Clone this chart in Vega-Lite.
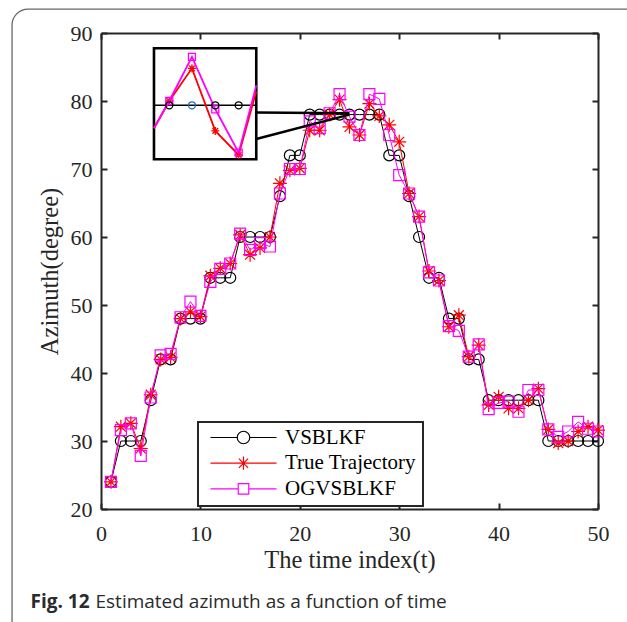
{
"$schema":"https://vega.github.io/schema/vega-lite/v6.json",
"width":497,"height":476,
"autosize":{"type":"none"},
"padding":{"left":101,"top":33,"right":29,"bottom":113},
"background":"white",
"datasets":{
"main":[
{"t":1,"series":"VSBLKF","azimuth":24},{"t":2,"series":"VSBLKF","azimuth":30},{"t":3,"series":"VSBLKF","azimuth":30},{"t":4,"series":"VSBLKF","azimuth":30},{"t":5,"series":"VSBLKF","azimuth":36},{"t":6,"series":"VSBLKF","azimuth":42},{"t":7,"series":"VSBLKF","azimuth":42},{"t":8,"series":"VSBLKF","azimuth":48},{"t":9,"series":"VSBLKF","azimuth":48},{"t":10,"series":"VSBLKF","azimuth":48},
{"t":11,"series":"VSBLKF","azimuth":54},{"t":12,"series":"VSBLKF","azimuth":54},{"t":13,"series":"VSBLKF","azimuth":54},{"t":14,"series":"VSBLKF","azimuth":60},{"t":15,"series":"VSBLKF","azimuth":60},{"t":16,"series":"VSBLKF","azimuth":60},{"t":17,"series":"VSBLKF","azimuth":60},{"t":18,"series":"VSBLKF","azimuth":66},{"t":19,"series":"VSBLKF","azimuth":72},{"t":20,"series":"VSBLKF","azimuth":72},
{"t":21,"series":"VSBLKF","azimuth":78},{"t":22,"series":"VSBLKF","azimuth":78},{"t":23,"series":"VSBLKF","azimuth":78},{"t":24,"series":"VSBLKF","azimuth":78},{"t":25,"series":"VSBLKF","azimuth":78},{"t":26,"series":"VSBLKF","azimuth":78},{"t":27,"series":"VSBLKF","azimuth":78},{"t":28,"series":"VSBLKF","azimuth":78},{"t":29,"series":"VSBLKF","azimuth":72},{"t":30,"series":"VSBLKF","azimuth":72},
{"t":31,"series":"VSBLKF","azimuth":66},{"t":32,"series":"VSBLKF","azimuth":60},{"t":33,"series":"VSBLKF","azimuth":54},{"t":34,"series":"VSBLKF","azimuth":54},{"t":35,"series":"VSBLKF","azimuth":48},{"t":36,"series":"VSBLKF","azimuth":48},{"t":37,"series":"VSBLKF","azimuth":42},{"t":38,"series":"VSBLKF","azimuth":42},{"t":39,"series":"VSBLKF","azimuth":36},{"t":40,"series":"VSBLKF","azimuth":36},
{"t":41,"series":"VSBLKF","azimuth":36},{"t":42,"series":"VSBLKF","azimuth":36},{"t":43,"series":"VSBLKF","azimuth":36},{"t":44,"series":"VSBLKF","azimuth":36},{"t":45,"series":"VSBLKF","azimuth":30},{"t":46,"series":"VSBLKF","azimuth":30},{"t":47,"series":"VSBLKF","azimuth":30},{"t":48,"series":"VSBLKF","azimuth":30},{"t":49,"series":"VSBLKF","azimuth":30},{"t":50,"series":"VSBLKF","azimuth":30},
{"t":1,"series":"True Trajectory","azimuth":24},{"t":2,"series":"True Trajectory","azimuth":32.1},{"t":3,"series":"True Trajectory","azimuth":32.6},{"t":4,"series":"True Trajectory","azimuth":28.9},{"t":5,"series":"True Trajectory","azimuth":36.8},{"t":6,"series":"True Trajectory","azimuth":42},{"t":7,"series":"True Trajectory","azimuth":42.3},{"t":8,"series":"True Trajectory","azimuth":48},{"t":9,"series":"True Trajectory","azimuth":49},{"t":10,"series":"True Trajectory","azimuth":48.3},
{"t":11,"series":"True Trajectory","azimuth":54.3},{"t":12,"series":"True Trajectory","azimuth":55.4},{"t":13,"series":"True Trajectory","azimuth":56.1},{"t":14,"series":"True Trajectory","azimuth":60.3},{"t":15,"series":"True Trajectory","azimuth":57.4},{"t":16,"series":"True Trajectory","azimuth":58.4},{"t":17,"series":"True Trajectory","azimuth":60},{"t":18,"series":"True Trajectory","azimuth":67.9},{"t":19,"series":"True Trajectory","azimuth":69.8},{"t":20,"series":"True Trajectory","azimuth":70.1},
{"t":21,"series":"True Trajectory","azimuth":75.7},{"t":22,"series":"True Trajectory","azimuth":75.7},{"t":23,"series":"True Trajectory","azimuth":78},{"t":24,"series":"True Trajectory","azimuth":80.2},{"t":25,"series":"True Trajectory","azimuth":76.2},{"t":26,"series":"True Trajectory","azimuth":75},{"t":27,"series":"True Trajectory","azimuth":79.6},{"t":28,"series":"True Trajectory","azimuth":77.8},{"t":29,"series":"True Trajectory","azimuth":76.5},{"t":30,"series":"True Trajectory","azimuth":74},
{"t":31,"series":"True Trajectory","azimuth":66.4},{"t":32,"series":"True Trajectory","azimuth":63},{"t":33,"series":"True Trajectory","azimuth":55},{"t":34,"series":"True Trajectory","azimuth":53.6},{"t":35,"series":"True Trajectory","azimuth":46.8},{"t":36,"series":"True Trajectory","azimuth":48.5},{"t":37,"series":"True Trajectory","azimuth":42.4},{"t":38,"series":"True Trajectory","azimuth":44.1},{"t":39,"series":"True Trajectory","azimuth":35.3},{"t":40,"series":"True Trajectory","azimuth":36.5},
{"t":41,"series":"True Trajectory","azimuth":34.8},{"t":42,"series":"True Trajectory","azimuth":34.8},{"t":43,"series":"True Trajectory","azimuth":36},{"t":44,"series":"True Trajectory","azimuth":37.7},{"t":45,"series":"True Trajectory","azimuth":31.7},{"t":46,"series":"True Trajectory","azimuth":29.7},{"t":47,"series":"True Trajectory","azimuth":30},{"t":48,"series":"True Trajectory","azimuth":31.4},{"t":49,"series":"True Trajectory","azimuth":32.1},{"t":50,"series":"True Trajectory","azimuth":31.6},
{"t":1,"series":"OGVSBLKF","azimuth":24},{"t":2,"series":"OGVSBLKF","azimuth":31.6},{"t":3,"series":"OGVSBLKF","azimuth":32.6},{"t":4,"series":"OGVSBLKF","azimuth":27.8},{"t":5,"series":"OGVSBLKF","azimuth":36.4},{"t":6,"series":"OGVSBLKF","azimuth":42.6},{"t":7,"series":"OGVSBLKF","azimuth":42.8},{"t":8,"series":"OGVSBLKF","azimuth":48.2},{"t":9,"series":"OGVSBLKF","azimuth":50.5},{"t":10,"series":"OGVSBLKF","azimuth":48.4},
{"t":11,"series":"OGVSBLKF","azimuth":53.4},{"t":12,"series":"OGVSBLKF","azimuth":55.3},{"t":13,"series":"OGVSBLKF","azimuth":56.1},{"t":14,"series":"OGVSBLKF","azimuth":60.5},{"t":15,"series":"OGVSBLKF","azimuth":58.1},{"t":16,"series":"OGVSBLKF","azimuth":59.1},{"t":17,"series":"OGVSBLKF","azimuth":58.6},{"t":18,"series":"OGVSBLKF","azimuth":66.4},{"t":19,"series":"OGVSBLKF","azimuth":70},{"t":20,"series":"OGVSBLKF","azimuth":70},
{"t":21,"series":"OGVSBLKF","azimuth":77},{"t":22,"series":"OGVSBLKF","azimuth":76},{"t":23,"series":"OGVSBLKF","azimuth":78.2},{"t":24,"series":"OGVSBLKF","azimuth":81},{"t":25,"series":"OGVSBLKF","azimuth":77.7},{"t":26,"series":"OGVSBLKF","azimuth":75},{"t":27,"series":"OGVSBLKF","azimuth":81},{"t":28,"series":"OGVSBLKF","azimuth":80.3},{"t":29,"series":"OGVSBLKF","azimuth":75},{"t":30,"series":"OGVSBLKF","azimuth":69.1},
{"t":31,"series":"OGVSBLKF","azimuth":66.4},{"t":32,"series":"OGVSBLKF","azimuth":63},{"t":33,"series":"OGVSBLKF","azimuth":54.8},{"t":34,"series":"OGVSBLKF","azimuth":53.6},{"t":35,"series":"OGVSBLKF","azimuth":46.9},{"t":36,"series":"OGVSBLKF","azimuth":46.2},{"t":37,"series":"OGVSBLKF","azimuth":42.4},{"t":38,"series":"OGVSBLKF","azimuth":44.2},{"t":39,"series":"OGVSBLKF","azimuth":34.7},{"t":40,"series":"OGVSBLKF","azimuth":35.6},
{"t":41,"series":"OGVSBLKF","azimuth":35.8},{"t":42,"series":"OGVSBLKF","azimuth":34.3},{"t":43,"series":"OGVSBLKF","azimuth":37.5},{"t":44,"series":"OGVSBLKF","azimuth":37.5},{"t":45,"series":"OGVSBLKF","azimuth":31.7},{"t":46,"series":"OGVSBLKF","azimuth":30.6},{"t":47,"series":"OGVSBLKF","azimuth":31.4},{"t":48,"series":"OGVSBLKF","azimuth":32.8},{"t":49,"series":"OGVSBLKF","azimuth":31.8},{"t":50,"series":"OGVSBLKF","azimuth":31.4}
],
"inset":[
{"t":5.33,"series":"VSBLKF","azimuth":79.37},{"t":6.87,"series":"VSBLKF","azimuth":79.37},{"t":9.15,"series":"VSBLKF","azimuth":79.37},{"t":11.5,"series":"VSBLKF","azimuth":79.37},{"t":13.85,"series":"VSBLKF","azimuth":79.37},{"t":15.62,"series":"VSBLKF","azimuth":79.37},
{"t":5.33,"series":"True Trajectory","azimuth":76.0},{"t":6.87,"series":"True Trajectory","azimuth":80.0},{"t":9.15,"series":"True Trajectory","azimuth":84.8},{"t":11.5,"series":"True Trajectory","azimuth":75.6},{"t":13.85,"series":"True Trajectory","azimuth":72.06},{"t":15.62,"series":"True Trajectory","azimuth":81.4},
{"t":5.33,"series":"OGVSBLKF","azimuth":76.0},{"t":6.87,"series":"OGVSBLKF","azimuth":80.0},{"t":9.15,"series":"OGVSBLKF","azimuth":86.5},{"t":11.5,"series":"OGVSBLKF","azimuth":78.78},{"t":13.85,"series":"OGVSBLKF","azimuth":72.4},{"t":15.62,"series":"OGVSBLKF","azimuth":82.3}
]
},
"layer":[
{"data":{"values":[{}]},
 "mark":{"type":"rect","filled":false,"stroke":"#666666","strokeWidth":1.3,"cornerRadius":16},
 "encoding":{"x":{"datum":-8.95,"type":"quantitative","scale":{"domain":[0,50],"nice":false},"axis":null},"x2":{"datum":54.5},
  "y":{"datum":93.5,"type":"quantitative","scale":{"domain":[20,90],"nice":false},"axis":null},"y2":{"datum":1.0}}},
{"data":{"name":"main"},"transform":[{"filter":"datum.series === 'VSBLKF'"}],
 "mark":{"type":"line","color":"#000000","strokeWidth":1},
 "encoding":{"x":{"field":"t","type":"quantitative","scale":{"domain":[0,50],"nice":false},
   "axis":{"orient":"bottom","values":[0,10,20,30,40,50],"title":"The time index(t)","tickSize":-6,"labelPadding":20,"titlePadding":4,"labelFlush":false}},
  "y":{"field":"azimuth","type":"quantitative","scale":{"domain":[20,90],"nice":false},
   "axis":{"orient":"left","values":[20,30,40,50,60,70,80,90],"title":"Azimuth(degree)","tickSize":-6,"labelPadding":15,"titlePadding":8,"labelFlush":false}}}},
{"data":{"name":"main"},"transform":[{"filter":"datum.series === 'VSBLKF'"}],
 "mark":{"type":"point","shape":"circle","filled":false,"stroke":"#000000","strokeWidth":1.2,"size":121,"opacity":1},
 "encoding":{"x":{"field":"t","type":"quantitative","scale":{"domain":[0,50],"nice":false},
   "axis":{"orient":"top","values":[0,10,20,30,40,50],"labels":false,"tickSize":-6,"labelFlush":false,
    "title":"Estimated azimuth as a function of time","titleX":-6,"titleY":568,"titleAlign":"left","titleBaseline":"middle","titleAngle":0,
    "titleFont":"Open Sans","titleFontSize":19,"titleFontWeight":"normal","titleColor":"#2b2b2b"}},
  "y":{"field":"azimuth","type":"quantitative","scale":{"domain":[20,90],"nice":false},
   "axis":{"orient":"right","values":[20,30,40,50,60,70,80,90],"labels":false,"tickSize":-6,"labelFlush":false,
    "title":"Fig. 12","titleX":-568,"titleY":568,"titleAlign":"left","titleBaseline":"middle","titleAngle":0,
    "titleFont":"Open Sans","titleFontSize":19,"titleFontWeight":"bold","titleColor":"#2b2b2b"}}}},
{"data":{"name":"main"},"transform":[{"filter":"datum.series === 'True Trajectory'"}],
 "mark":{"type":"line","color":"#ff0000","strokeWidth":1},
 "encoding":{"x":{"field":"t","type":"quantitative","axis":null},"y":{"field":"azimuth","type":"quantitative","axis":null}}},
{"data":{"name":"main"},"transform":[{"filter":"datum.series === 'True Trajectory'"}],
 "mark":{"type":"point","shape":"M-1,0L1,0M0,-1L0,1M-0.71,-0.71L0.71,0.71M-0.71,0.71L0.71,-0.71","filled":false,"stroke":"#ff0000","strokeWidth":1.2,"size":196,"opacity":1},
 "encoding":{"x":{"field":"t","type":"quantitative","axis":null},"y":{"field":"azimuth","type":"quantitative","axis":null}}},
{"data":{"name":"main"},"transform":[{"filter":"datum.series === 'OGVSBLKF'"}],
 "mark":{"type":"line","color":"#ff00ff","strokeWidth":1},
 "encoding":{"x":{"field":"t","type":"quantitative","axis":null},"y":{"field":"azimuth","type":"quantitative","axis":null}}},
{"data":{"name":"main"},"transform":[{"filter":"datum.series === 'OGVSBLKF'"}],
 "mark":{"type":"point","shape":"square","filled":false,"stroke":"#ff00ff","strokeWidth":1.2,"size":121,"opacity":1},
 "encoding":{"x":{"field":"t","type":"quantitative","axis":null},"y":{"field":"azimuth","type":"quantitative","axis":null}}},
{"data":{"name":"main"},"transform":[{"filter":"false"}],
 "mark":{"type":"point","filled":false,"opacity":1},
 "encoding":{"x":{"field":"t","type":"quantitative","axis":null},"y":{"field":"azimuth","type":"quantitative","axis":null},
  "color":{"field":"series","type":"nominal","scale":{"domain":["VSBLKF","True Trajectory","OGVSBLKF"],"range":["#000000","#ff0000","#ff00ff"]},
   "legend":{"title":null,"orient":"none","legendX":97,"legendY":389,"symbolSize":4356,"symbolStrokeWidth":1.2,"clipHeight":18,"rowPadding":4.7,"padding":6.5,"symbolOffset":5,"labelOffset":7.5}},
  "shape":{"field":"series","type":"nominal","scale":{"domain":["VSBLKF","True Trajectory","OGVSBLKF"],
   "range":["M-1,0L-0.19,0M0.19,0L1,0M0.19,0A0.19,0.19,0,1,1,-0.19,0A0.19,0.19,0,1,1,0.19,0",
            "M-1,0L1,0M0,-0.2L0,0.2M-0.14,-0.14L0.14,0.14M-0.14,0.14L0.14,-0.14",
            "M-1,0L-0.16,0M0.16,0L1,0M-0.16,-0.16L0.16,-0.16L0.16,0.16L-0.16,0.16Z"]},
   "legend":{"title":null,"orient":"none","legendX":97,"legendY":389,"symbolSize":4356,"symbolStrokeWidth":1.2,"clipHeight":18,"rowPadding":4.7,"padding":6.5,"symbolOffset":5,"labelOffset":7.5}}}},
{"data":{"values":[{}]},
 "mark":{"type":"rule","color":"#000000","strokeWidth":2.5},
 "encoding":{"x":{"datum":15.62,"type":"quantitative","axis":null},"x2":{"datum":25},"y":{"datum":78.3,"type":"quantitative","axis":null},"y2":{"datum":78.2}}},
{"data":{"values":[{}]},
 "mark":{"type":"rule","color":"#000000","strokeWidth":2.5},
 "encoding":{"x":{"datum":15.62,"type":"quantitative","axis":null},"x2":{"datum":25},"y":{"datum":74.4,"type":"quantitative","axis":null},"y2":{"datum":78.0}}},
{"data":{"values":[{}]},
 "mark":{"type":"rect","fill":"#ffffff","stroke":"#000000","strokeWidth":2.6},
 "encoding":{"x":{"datum":5.33,"type":"quantitative","axis":null},"x2":{"datum":15.62},"y":{"datum":87.75,"type":"quantitative","axis":null},"y2":{"datum":71.43}}},
{"data":{"name":"inset"},"transform":[{"filter":"datum.series === 'VSBLKF'"}],
 "mark":{"type":"line","color":"#000000","strokeWidth":1.6},
 "encoding":{"x":{"field":"t","type":"quantitative","axis":null},"y":{"field":"azimuth","type":"quantitative","axis":null}}},
{"data":{"name":"inset"},"transform":[{"filter":"datum.series === 'True Trajectory'"}],
 "mark":{"type":"line","color":"#ff0000","strokeWidth":1.8},
 "encoding":{"x":{"field":"t","type":"quantitative","axis":null},"y":{"field":"azimuth","type":"quantitative","axis":null}}},
{"data":{"name":"inset"},"transform":[{"filter":"datum.series === 'True Trajectory' && datum.t > 6 && datum.t < 15"}],
 "mark":{"type":"point","shape":"M-1,0L1,0M0,-1L0,1M-0.71,-0.71L0.71,0.71M-0.71,0.71L0.71,-0.71","filled":false,"stroke":"#ff0000","strokeWidth":1.3,"size":64,"opacity":1},
 "encoding":{"x":{"field":"t","type":"quantitative","axis":null},"y":{"field":"azimuth","type":"quantitative","axis":null}}},
{"data":{"name":"inset"},"transform":[{"filter":"datum.series === 'OGVSBLKF'"}],
 "mark":{"type":"line","color":"#ff00ff","strokeWidth":1.8},
 "encoding":{"x":{"field":"t","type":"quantitative","axis":null},"y":{"field":"azimuth","type":"quantitative","axis":null}}},
{"data":{"name":"inset"},"transform":[{"filter":"datum.series === 'OGVSBLKF' && datum.t > 6 && datum.t < 15"}],
 "mark":{"type":"point","shape":"square","filled":false,"stroke":"#ff00ff","strokeWidth":1.3,"size":49,"opacity":1},
 "encoding":{"x":{"field":"t","type":"quantitative","axis":null},"y":{"field":"azimuth","type":"quantitative","axis":null}}},
{"data":{"name":"inset"},"transform":[{"filter":"datum.series === 'VSBLKF' && datum.t > 6 && datum.t < 15"}],
 "mark":{"type":"point","shape":"circle","filled":false,"strokeWidth":1.3,"size":49,"opacity":1},
 "encoding":{"x":{"field":"t","type":"quantitative","axis":null},"y":{"field":"azimuth","type":"quantitative","axis":null},
  "stroke":{"condition":{"test":"datum.t === 9.15","value":"#1f6fb0"},"value":"#000000"}}}
],
"resolve":{"axis":{"x":"independent","y":"independent"}},
"config":{
 "view":{"stroke":null},
 "axis":{"grid":false,"domainColor":"#262626","domainWidth":2,"tickColor":"#262626","tickWidth":2,
  "labelFont":"Liberation Serif","labelFontSize":22,"labelColor":"#262626",
  "titleFont":"Liberation Serif","titleFontSize":24.5,"titleFontWeight":"normal","titleColor":"#262626"},
 "legend":{"labelFont":"Liberation Serif","labelFontSize":21,"labelColor":"#000000","strokeColor":"#262626","strokeWidth":2,"fillColor":"#ffffff","labelLimit":400}
}
}
